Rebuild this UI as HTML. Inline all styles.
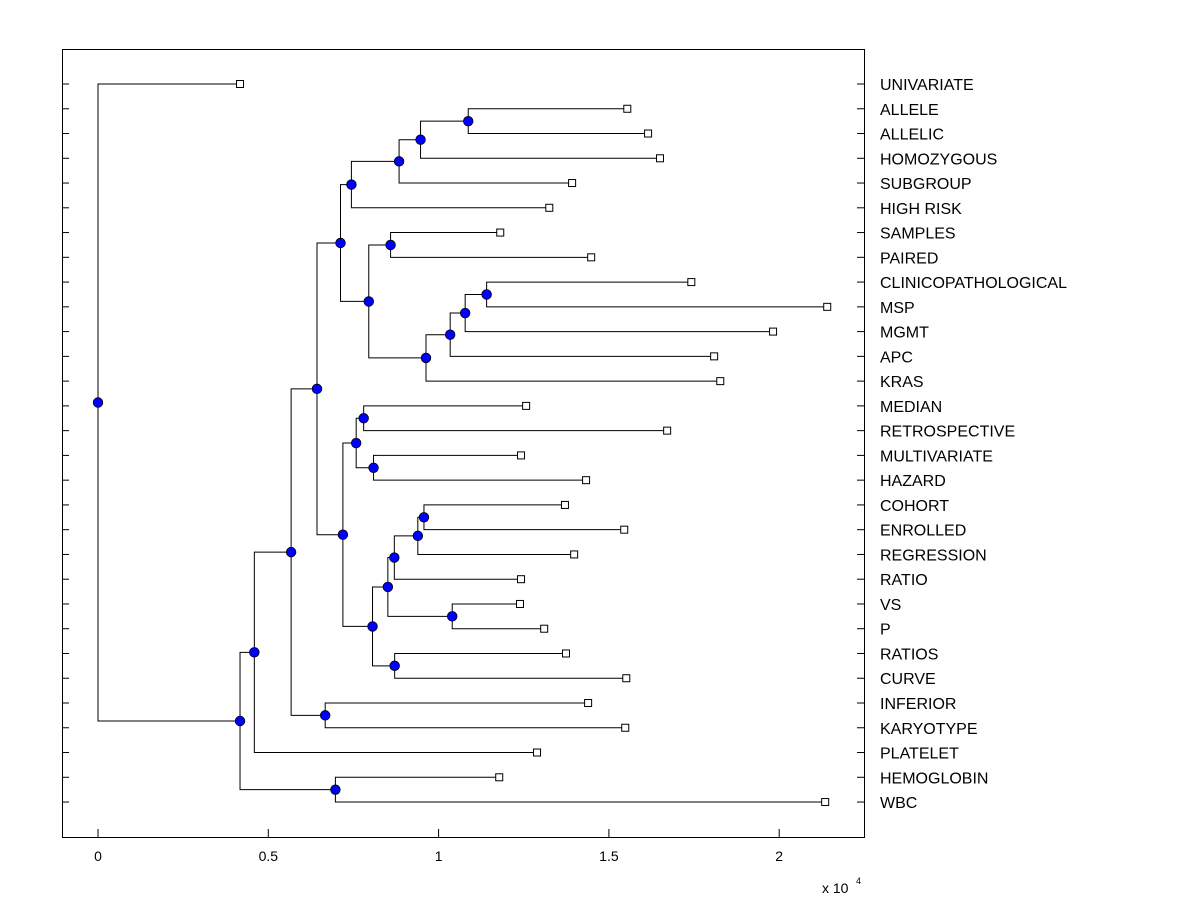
<!DOCTYPE html>
<html><head><meta charset="utf-8"><style>
body{margin:0;background:#fff;}
svg text{font-family:"Liberation Sans",Arial,sans-serif;}
</style></head><body>
<svg id="chart" width="1200" height="900" xmlns="http://www.w3.org/2000/svg">
<rect x="0" y="0" width="1200" height="900" fill="#fff"/>
<rect x="62.5" y="49.5" width="802" height="788" fill="#fff" stroke="#000" stroke-width="1"/>
<g id="lines"></g><g id="marks"></g><g id="labels"></g>
<text x="822" y="893" font-size="14">x 10</text>
<text x="856" y="884" font-size="9">4</text>
</svg>
<script>
const leafNames=["UNIVARIATE","ALLELE","ALLELIC","HOMOZYGOUS","SUBGROUP","HIGH RISK","SAMPLES","PAIRED","CLINICOPATHOLOGICAL","MSP","MGMT","APC","KRAS","MEDIAN","RETROSPECTIVE","MULTIVARIATE","HAZARD","COHORT","ENROLLED","REGRESSION","RATIO","VS","P","RATIOS","CURVE","INFERIOR","KARYOTYPE","PLATELET","HEMOGLOBIN","WBC"];
const leafValues=[0.417,1.554,1.615,1.650,1.392,1.325,1.181,1.448,1.742,2.141,1.982,1.809,1.827,1.257,1.671,1.242,1.433,1.371,1.545,1.398,1.242,1.239,1.310,1.374,1.551,1.439,1.548,1.289,1.178,2.135];
const nodeIds=["K","J","I","G","L","P","O","N","M","H","E","S","T","Q","Z","Y","W","X","U","V","R","F","D","IK","C","B","HW","A","ROOT"];
const nodeHeights=[1.087,0.947,0.884,0.744,0.859,1.141,1.078,1.034,0.963,0.795,0.712,0.780,0.809,0.758,0.957,0.939,0.870,1.040,0.851,0.871,0.806,0.719,0.643,0.667,0.567,0.459,0.697,0.417,0];
const nodeChildren=[["L1","L2"],["NK","L3"],["NJ","L4"],["NI","L5"],["L6","L7"],["L8","L9"],["NP","L10"],["NO","L11"],["NN","L12"],["NL","NM"],["NG","NH"],["L13","L14"],["L15","L16"],["NS","NT"],["L17","L18"],["NZ","L19"],["NY","L20"],["L21","L22"],["NW","NX"],["L23","L24"],["NU","NV"],["NQ","NR"],["NE","NF"],["L25","L26"],["ND","NIK"],["NC","L27"],["L28","L29"],["NB","NHW"],["L0","NA"]];
const xTicks=[0,0.5,1,1.5,2];
const xTickLabels=["0","0.5","1","1.5","2"];

const NS="http://www.w3.org/2000/svg";
const X=v=>98+v*340.6;
const Y=i=>84+i*24.76;
const gl=document.getElementById('lines'),gm=document.getElementById('marks'),gt=document.getElementById('labels');
function mk(tag,at,parent){const e=document.createElementNS(NS,tag);for(const k in at)e.setAttribute(k,at[k]);parent.appendChild(e);return e;}
const pos={};
leafNames.forEach((n,i)=>{pos["L"+i]={x:X(leafValues[i]),y:Y(i)};});
nodeIds.forEach((id,k)=>{
  const a=pos[nodeChildren[k][0]],b=pos[nodeChildren[k][1]];
  const x=X(nodeHeights[k]),y=(a.y+b.y)/2;pos["N"+id]={x,y};
  const p=mk('path',{d:`M${a.x},${a.y}H${x}V${b.y}H${b.x}`,fill:'none',stroke:'#000','stroke-width':1},gl);
  
  
});
nodeIds.forEach((id,k)=>{
  const p=pos["N"+id];
  const c=mk('circle',{cx:p.x,cy:p.y,r:4.8,fill:'#0000ff',stroke:'#000','stroke-width':0.8},gm);
  
  
});
leafNames.forEach((n,i)=>{
  const p=pos["L"+i];
  const r=mk('rect',{x:p.x-3.5,y:p.y-3.5,width:7,height:7,fill:'#fff',stroke:'#000','stroke-width':1},gm);
  
  
  const t=mk('text',{x:880,y:p.y+6,'font-size':16},gt);t.textContent=n;
  
  
  const l1=mk('line',{x1:62,x2:69,y1:p.y,y2:p.y,stroke:'#000'},gt);
  
  
  const l2=mk('line',{x1:857,x2:864,y1:p.y,y2:p.y,stroke:'#000'},gt);
  
  
});
xTicks.forEach((v,i)=>{
  const x=X(v);
  const a=mk('line',{x1:x,x2:x,y1:837,y2:829,stroke:'#000'},gt);
  
  
  const t=mk('text',{x:x,y:861,'font-size':14,'text-anchor':'middle'},gt);t.textContent=xTickLabels[i];
  
  
});
</script>
</body></html>
